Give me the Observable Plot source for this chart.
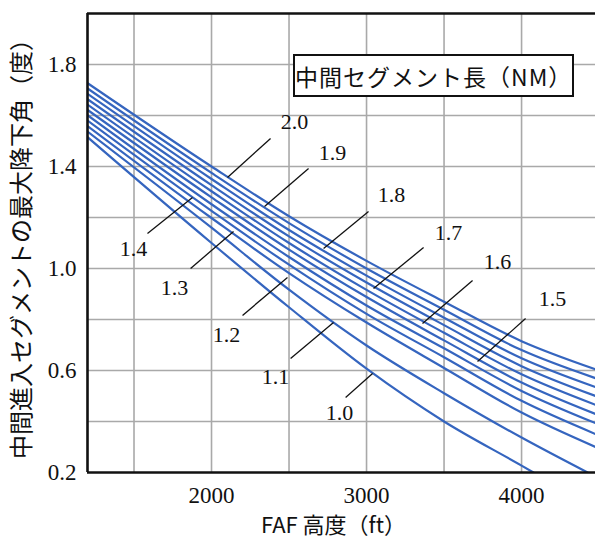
<!DOCTYPE html>
<html>
<head>
<meta charset="utf-8">
<script src="https://cdn.jsdelivr.net/npm/d3@7"></script>
<script src="https://cdn.jsdelivr.net/npm/@observablehq/plot@0.6"></script>
<style>
  html, body { margin: 0; padding: 0; background: #fff; overflow: hidden; }
  #wrap { position: relative; width: 595px; height: 545px; }
  #legend {
    position: absolute; left: 293px; top: 54px; width: 277px; height: 39px;
    border: 2px solid #111; background: #fff;
    font-family: "Noto Sans CJK JP", sans-serif; font-size: 23px; color: #111;
    display: flex; align-items: center; justify-content: center; letter-spacing: 1px;
  }
</style>
</head>
<body>
<div id="wrap"></div>
<script>
// FAF altitude (ft) knots and max descent angle (deg) for each intermediate segment length (NM)
const ftMain = [1200, 2000, 2500, 3000, 3500, 4000, 4500];
const nm20 = [1.727, 1.400, 1.205, 1.030, 0.870, 0.715, 0.600];
const nm19 = [1.706, 1.375, 1.178, 1.000, 0.838, 0.680, 0.565];
const nm18 = [1.685, 1.351, 1.151, 0.972, 0.807, 0.648, 0.530];
const nm17 = [1.664, 1.327, 1.126, 0.945, 0.778, 0.617, 0.495];
const nm16 = [1.643, 1.303, 1.100, 0.916, 0.748, 0.585, 0.460];
const nm15 = [1.622, 1.279, 1.074, 0.888, 0.718, 0.553, 0.424];
const nm14 = [1.601, 1.252, 1.045, 0.855, 0.687, 0.520, 0.388];
const nm13 = [1.580, 1.226, 1.015, 0.822, 0.652, 0.481, 0.345];
const nm12 = [1.559, 1.198, 0.982, 0.788, 0.610, 0.435, 0.294];
const ft11 = [1200, 2000, 2500, 3000, 3500, 4000, 4426];
const nm11 = [1.537, 1.160, 0.917, 0.698, 0.511, 0.337, 0.200];
const ft10 = [1200, 2000, 2500, 3000, 3500, 4000, 4077];
const nm10 = [1.515, 1.100, 0.848, 0.607, 0.400, 0.227, 0.200];

// curve labels (segment length) with label position and leader line end points, in data units
const labelText = ["2.0", "1.9", "1.8", "1.7", "1.6", "1.5", "1.4", "1.3", "1.2", "1.1", "1.0"];
const labelFt   = [2535, 2781, 3161, 3529, 3845, 4200, 1497, 1761, 2097, 2413, 2826];
const labelDeg  = [1.573, 1.455, 1.290, 1.141, 1.024, 0.882, 1.075, 0.922, 0.741, 0.576, 0.435];
const leadFt1   = [2381, 2626, 3013, 3368, 3684, 4026, 1587, 1865, 2200, 2510, 2865];
const leadDeg1  = [1.510, 1.392, 1.224, 1.082, 0.953, 0.804, 1.137, 1.000, 0.816, 0.647, 0.494];
const leadFt2   = [2103, 2342, 2723, 3045, 3361, 3716, 1877, 2142, 2490, 2787, 3039];
const leadDeg2  = [1.357, 1.243, 1.078, 0.922, 0.784, 0.635, 1.278, 1.145, 0.965, 0.788, 0.588];

const xTickLabels = [2000, 3000, 4000];
const yTickLabels = [0.2, 0.6, 1.0, 1.4, 1.8];
const xGrid = [1500, 2000, 2500, 3000, 3500, 4000, 4500];
const yGrid = [0.4, 0.6, 0.8, 1.0, 1.2, 1.4, 1.6, 1.8];

const yTitle = "中間進入セグメントの最大降下角（度）";
const xTitle = "FAF 高度（ft）";
const legendTitle = "中間セグメント長（NM）";

const series = [
  ["2.0", ftMain, nm20], ["1.9", ftMain, nm19], ["1.8", ftMain, nm18], ["1.7", ftMain, nm17],
  ["1.6", ftMain, nm16], ["1.5", ftMain, nm15], ["1.4", ftMain, nm14], ["1.3", ftMain, nm13],
  ["1.2", ftMain, nm12], ["1.1", ft11, nm11], ["1.0", ft10, nm10]
];
const rows = series.flatMap(([L, xs, ys]) => xs.map((x, i) => ({L, x, y: ys[i]})));
const labels = labelText.map((t, i) => ({
  t, x: labelFt[i], y: labelDeg[i], x1: leadFt1[i], y1: leadDeg1[i], x2: leadFt2[i], y2: leadDeg2[i]
}));

const sans = "'Noto Sans CJK JP', sans-serif";
const serif = "'Liberation Serif', 'Times New Roman', serif";
const blue = "#3565bf";

const chart = Plot.plot({
  width: 595,
  height: 545,
  marginLeft: 87,
  marginRight: 0,
  marginTop: 13,
  marginBottom: 73,
  style: {fontFamily: serif, fontSize: "23px", color: "#111", background: "#fff"},
  x: {domain: [1200, 4477]},
  y: {domain: [0.2, 2.0]},
  marks: [
    Plot.gridX(xGrid, {stroke: "#a9a9a9", strokeOpacity: 1, strokeWidth: 1.6}),
    Plot.gridY(yGrid, {stroke: "#a9a9a9", strokeOpacity: 1, strokeWidth: 1.6}),
    Plot.line(rows, {x: "x", y: "y", z: "L", stroke: blue, strokeWidth: 2.2, curve: "monotone-x", clip: true}),
    Plot.link(labels, {x1: "x1", y1: "y1", x2: "x2", y2: "y2", stroke: "#111", strokeWidth: 1.3}),
    Plot.text(labels, {x: "x", y: "y", text: "t", fontFamily: serif, fontSize: 22, fill: "#111"}),
    Plot.ruleX([1200], {stroke: "#111", strokeWidth: 2.6}),
    Plot.ruleY([0.2, 2.0], {stroke: "#111", strokeWidth: 2.6}),
    Plot.axisX(xTickLabels, {tickSize: 0, tickPadding: 14, fontSize: 23, fontFamily: serif, label: null, tickFormat: d => String(d)}),
    Plot.axisY(yTickLabels, {tickSize: 0, tickPadding: 11, fontSize: 23, fontFamily: serif, label: null, tickFormat: d => d.toFixed(1)}),
    Plot.text([yTitle], {text: d => d, frameAnchor: "left", textAnchor: "middle", dx: -65, rotate: -90, fontFamily: sans, fontSize: 24, fill: "#111"}),
    Plot.text([xTitle], {text: d => d, frameAnchor: "bottom", textAnchor: "middle", dy: 60, dx: -8, fontFamily: sans, fontSize: 22, fill: "#111"})
  ]
});

const wrap = document.getElementById("wrap");
wrap.appendChild(chart);
const lg = document.createElement("div");
lg.id = "legend";
lg.textContent = legendTitle;
wrap.appendChild(lg);
</script>
</body>
</html>
